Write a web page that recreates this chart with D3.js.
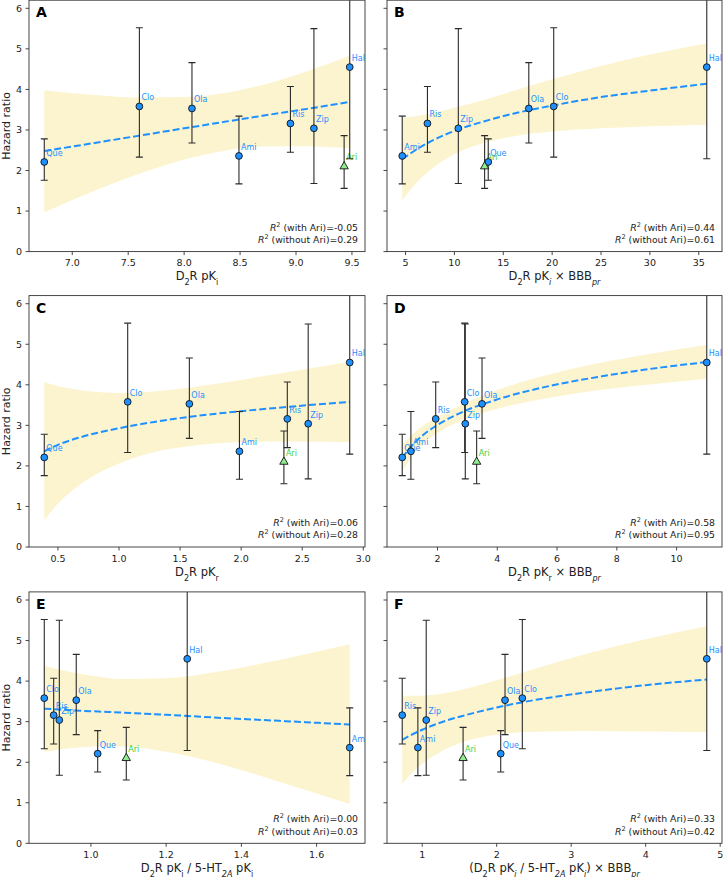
<!DOCTYPE html>
<html>
<head>
<meta charset="utf-8">
<script src="https://cdn.jsdelivr.net/npm/d3@7"></script>
<style>
  body { margin: 0; background: #fff; }
  svg text { font-family: "DejaVu Sans", sans-serif; }
</style>
</head>
<body>
<div id="chart"></div>
<script>
// drugs and their hazard ratios (same in every panel)
const drugs   = ["Que", "Clo", "Ola", "Ami", "Ris", "Zip", "Hal", "Ari"];
const hazard  = [2.21, 3.58, 3.53, 2.36, 3.16, 3.04, 4.55, 2.10];
const ciLow   = [1.76, 2.33, 2.68, 1.67, 2.45, 1.68, 2.29, 1.56];
const ciHigh  = [2.78, 5.52, 4.66, 3.34, 4.07, 5.50, 9.05, 2.86];

// x value of each drug, per panel
const xA = [6.75, 7.60, 8.07, 8.49, 8.95, 9.16, 9.48, 9.43];
const xB = [13.46, 20.16, 17.61, 4.66, 7.24, 10.40, 35.82, 13.09];
const xC = [0.388, 1.071, 1.576, 1.986, 2.378, 2.549, 2.889, 2.35];
const xD = [0.82, 2.91, 3.49, 1.11, 1.94, 2.93, 11.01, 3.31];
const xE = [1.018, 0.876, 0.961, 1.688, 0.901, 0.916, 1.256, 1.094];
const xF = [2.054, 2.344, 2.112, 0.942, 0.732, 1.054, 4.82, 1.549];

// fitted curve + confidence band
const fitXA = [6.75, 7.2, 7.6, 8.0, 8.36, 8.7, 9.1, 9.48];
const fitYA = [2.48, 2.68, 2.86, 3.04, 3.20, 3.35, 3.52, 3.69];
const bandHiA = [3.98, 3.86, 3.80, 3.81, 3.91, 4.11, 4.45, 4.83];
const bandLoA = [0.97, 1.50, 1.92, 2.27, 2.49, 2.59, 2.60, 2.55];

const fitXB = [4.66, 6, 8, 10.4, 13, 16, 20, 25, 30, 35.82];
const fitYB = [2.28, 2.50, 2.77, 3.01, 3.21, 3.40, 3.60, 3.81, 3.97, 4.14];
const bandHiB = [3.30, 3.34, 3.43, 3.57, 3.74, 3.96, 4.25, 4.58, 4.86, 5.14];
const bandLoB = [1.26, 1.67, 2.10, 2.45, 2.68, 2.84, 2.96, 3.04, 3.09, 3.13];

const fitXC = [0.388, 0.5, 0.7, 1.0, 1.3, 1.6, 2.0, 2.4, 2.889];
const fitYC = [2.36, 2.52, 2.72, 2.93, 3.09, 3.22, 3.35, 3.46, 3.58];
const bandHiC = [4.07, 3.97, 3.86, 3.80, 3.84, 3.94, 4.12, 4.32, 4.57];
const bandLoC = [0.66, 1.07, 1.58, 2.06, 2.35, 2.50, 2.59, 2.60, 2.59];

const fitXD = [0.82, 1.1, 1.5, 2.0, 2.9, 4, 5.5, 7.5, 9.5, 11.01];
const fitYD = [2.20, 2.46, 2.75, 3.01, 3.35, 3.64, 3.93, 4.21, 4.43, 4.56];
const bandHiD = [2.53, 2.74, 2.98, 3.21, 3.54, 3.87, 4.21, 4.55, 4.81, 4.98];
const bandLoD = [1.86, 2.18, 2.52, 2.81, 3.15, 3.41, 3.65, 3.88, 4.04, 4.15];

const fitXE = [0.876, 0.95, 1.02, 1.088, 1.2, 1.35, 1.5, 1.688];
const fitYE = [3.32, 3.28, 3.25, 3.22, 3.17, 3.09, 3.02, 2.93];
const bandHiE = [4.38, 4.22, 4.11, 4.05, 4.07, 4.25, 4.52, 4.91];
const bandLoE = [2.26, 2.35, 2.39, 2.39, 2.26, 1.94, 1.52, 0.97];

const fitXF = [0.732, 0.85, 1.0, 1.25, 1.6, 2.0, 2.5, 3.2, 4.0, 4.82];
const fitYF = [2.55, 2.67, 2.80, 2.98, 3.17, 3.35, 3.53, 3.72, 3.90, 4.04];
const bandHiF = [3.64, 3.64, 3.64, 3.69, 3.82, 4.02, 4.30, 4.67, 5.03, 5.35];
const bandLoF = [1.47, 1.71, 1.96, 2.26, 2.53, 2.68, 2.75, 2.77, 2.76, 2.74];

const letters = ["A", "B", "C", "D", "E", "F"];
const r2With    = ["-0.05", "0.44", "0.06", "0.58", "0.00", "0.33"];
const r2Without = ["0.29", "0.61", "0.28", "0.95", "0.03", "0.42"];

const xTicksA = [7.0, 7.5, 8.0, 8.5, 9.0, 9.5];
const xTicksB = [5, 10, 15, 20, 25, 30, 35];
const xTicksC = [0.5, 1.0, 1.5, 2.0, 2.5, 3.0];
const xTicksD = [2, 4, 6, 8, 10];
const xTicksE = [1.0, 1.2, 1.4, 1.6];
const xTicksF = [1, 2, 3, 4, 5];
const yTicks = [0, 1, 2, 3, 4, 5, 6];

// x-axis titles: [text, kind] where kind = "" | "sub" | "subi" (italic sub)
const xTitles = [
  [["D", ""], ["2", "sub"], ["R pK", ""], ["i", "sub"]],
  [["D", ""], ["2", "sub"], ["R pK", ""], ["i", "subi"], [" \u00d7 BBB", ""], ["pr", "subi"]],
  [["D", ""], ["2", "sub"], ["R pK", ""], ["r", "sub"]],
  [["D", ""], ["2", "sub"], ["R pK", ""], ["r", "sub"], [" \u00d7 BBB", ""], ["pr", "subi"]],
  [["D", ""], ["2", "sub"], ["R pK", ""], ["i", "sub"], [" / 5-HT", ""], ["2A", "subi"], [" pK", ""], ["i", "sub"]],
  [["(D", ""], ["2", "sub"], ["R pK", ""], ["i", "subi"], [" / 5-HT", ""], ["2A", "subi"], [" pK", ""], ["i", "subi"], [") \u00d7 BBB", ""], ["pr", "subi"]]
];

const panels = [
  {xs: xA, fx: fitXA, fy: fitYA, lo: bandLoA, hi: bandHiA, ticks: xTicksA, fmt: d3.format(".1f")},
  {xs: xB, fx: fitXB, fy: fitYB, lo: bandLoB, hi: bandHiB, ticks: xTicksB, fmt: d3.format("d")},
  {xs: xC, fx: fitXC, fy: fitYC, lo: bandLoC, hi: bandHiC, ticks: xTicksC, fmt: d3.format(".1f")},
  {xs: xD, fx: fitXD, fy: fitYD, lo: bandLoD, hi: bandHiD, ticks: xTicksD, fmt: d3.format("d")},
  {xs: xE, fx: fitXE, fy: fitYE, lo: bandLoE, hi: bandHiE, ticks: xTicksE, fmt: d3.format(".1f")},
  {xs: xF, fx: fitXF, fy: fitYF, lo: bandLoF, hi: bandHiF, ticks: xTicksF, fmt: d3.format("d")}
];

const W = 725, H = 877;
const colX = [29, 387], colW = [336, 335];
const rowBottom = [251.6, 547, 843.3], axH = 251.4;

const blue = "#1e90ff", green = "#3ccf3c";

const svg = d3.select("#chart").append("svg")
  .attr("width", W).attr("height", H);

const y = d3.scaleLinear().domain([0, 6.2]).range([axH, 0]);

panels.forEach((p, i) => {
  const col = i % 2, row = Math.floor(i / 2);
  const w = colW[col];
  const g = svg.append("g")
    .attr("transform", "translate(" + colX[col] + "," + (rowBottom[row] - axH) + ")");

  const ext = d3.extent(p.xs);
  const pad = (ext[1] - ext[0]) * 0.05;
  const x = d3.scaleLinear().domain([ext[0] - pad, ext[1] + pad]).range([0, w]);

  g.append("clipPath").attr("id", "clip" + i)
    .append("rect").attr("width", w).attr("height", axH);
  const plot = g.append("g").attr("clip-path", "url(#clip" + i + ")");

  const fit = p.fx.map((v, k) => ({x: v, y: p.fy[k], lo: p.lo[k], hi: p.hi[k]}));

  // confidence band
  plot.append("path")
    .datum(fit)
    .attr("fill", "#fcf4ce")
    .attr("d", d3.area()
      .x(d => x(d.x))
      .y0(d => y(d.lo))
      .y1(d => y(d.hi))
      .curve(d3.curveMonotoneX));

  const pts = drugs.map((name, k) => ({
    name: name, x: p.xs[k], hr: hazard[k], lo: ciLow[k], hi: ciHigh[k]
  }));

  // point labels
  plot.selectAll(".lab").data(pts).enter().append("text")
    .attr("x", d => x(d.x) + 2)
    .attr("y", d => y(d.hr) - 6)
    .attr("font-size", 8)
    .attr("fill", d => d.name === "Ari" ? green : blue)
    .text(d => d.name);

  // dashed fit line
  plot.append("path")
    .datum(fit)
    .attr("fill", "none")
    .attr("stroke", blue)
    .attr("stroke-width", 2)
    .attr("stroke-dasharray", "7,3")
    .attr("d", d3.line().x(d => x(d.x)).y(d => y(d.y)).curve(d3.curveMonotoneX));

  // error bars
  const eb = plot.selectAll(".eb").data(pts).enter().append("g")
    .attr("stroke", "#2a2a2a").attr("stroke-width", 1.1);
  eb.append("line")
    .attr("x1", d => x(d.x)).attr("x2", d => x(d.x))
    .attr("y1", d => y(d.lo)).attr("y2", d => y(d.hi));
  eb.append("line")
    .attr("x1", d => x(d.x) - 3.5).attr("x2", d => x(d.x) + 3.5)
    .attr("y1", d => y(d.lo)).attr("y2", d => y(d.lo));
  eb.append("line")
    .attr("x1", d => x(d.x) - 3.5).attr("x2", d => x(d.x) + 3.5)
    .attr("y1", d => y(d.hi)).attr("y2", d => y(d.hi));

  // markers
  plot.selectAll(".dot").data(pts.filter(d => d.name !== "Ari")).enter().append("circle")
    .attr("cx", d => x(d.x)).attr("cy", d => y(d.hr))
    .attr("r", 3.4)
    .attr("fill", blue).attr("stroke", "#111").attr("stroke-width", 0.9);
  plot.selectAll(".tri").data(pts.filter(d => d.name === "Ari")).enter().append("path")
    .attr("transform", d => "translate(" + x(d.x) + "," + y(d.hr) + ")")
    .attr("d", d3.symbol(d3.symbolTriangle, 30))
    .attr("fill", "#90ee90").attr("stroke", "#111").attr("stroke-width", 0.9);

  // frame
  g.append("rect").attr("width", w).attr("height", axH)
    .attr("fill", "none").attr("stroke", "#333").attr("stroke-width", 0.9);

  // x ticks
  const xt = g.selectAll(".xt").data(p.ticks).enter().append("g")
    .attr("transform", d => "translate(" + x(d) + "," + axH + ")");
  xt.append("line").attr("y2", 3.5).attr("stroke", "#333").attr("stroke-width", 0.9);
  xt.append("text").attr("y", 14.5).attr("text-anchor", "middle")
    .attr("font-size", 9.5).attr("fill", "#222").text(d => p.fmt(d));

  // y ticks
  const yt = g.selectAll(".yt").data(yTicks).enter().append("g")
    .attr("transform", d => "translate(0," + y(d) + ")");
  yt.append("line").attr("x2", -3.5).attr("stroke", "#333").attr("stroke-width", 0.9);
  if (col === 0) {
    yt.append("text").attr("x", -7).attr("dy", "0.35em").attr("text-anchor", "end")
      .attr("font-size", 9.5).attr("fill", "#222").text(d => d);
    g.append("text")
      .attr("transform", "translate(" + (-19.3) + "," + (axH / 2) + ") rotate(-90)")
      .attr("text-anchor", "middle").attr("font-size", 11).attr("fill", "#222")
      .text("Hazard ratio");
  }

  // x title
  const xtTxt = g.append("text")
    .attr("x", w / 2).attr("y", axH + 28.6)
    .attr("text-anchor", "middle").attr("font-size", 11.5).attr("fill", "#222");
  xTitles[i].forEach(([s, kind]) => {
    const t = xtTxt.append("tspan").text(s);
    if (kind !== "") {
      t.attr("baseline-shift", "sub").attr("font-size", "70%");
      if (kind === "subi") t.attr("font-style", "italic");
    }
  });

  // panel letter
  g.append("text").attr("x", 7).attr("y", 17)
    .attr("font-size", 14).attr("font-weight", "bold").attr("fill", "#000")
    .text(letters[i]);

  // R^2 annotations
  [["with Ari", r2With[i], axH - 21], ["without Ari", r2Without[i], axH - 8.6]].forEach(([lab, val, yy]) => {
    const t = g.append("text").attr("x", w - 7).attr("y", yy)
      .attr("text-anchor", "end").attr("font-size", 9.3).attr("fill", "#222");
    t.append("tspan").attr("font-style", "italic").text("R");
    t.append("tspan").attr("baseline-shift", "super").attr("font-size", "70%").text("2");
    t.append("tspan").text(" (" + lab + ")=" + val);
  });
});
</script>
</body>
</html>
